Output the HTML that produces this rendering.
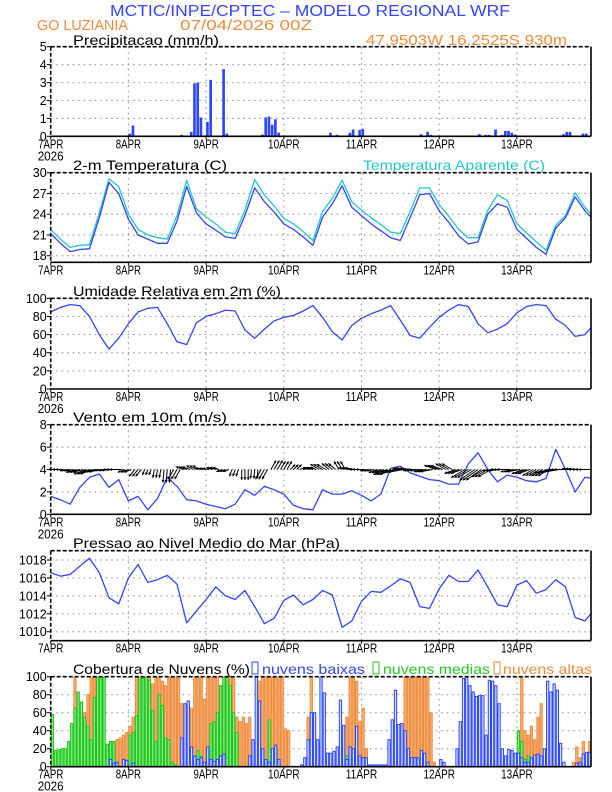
<!DOCTYPE html>
<html><head><meta charset="utf-8"><style>
html,body{margin:0;padding:0;background:#fff}
svg{display:block;font-family:"Liberation Sans",sans-serif}
</style></head><body>
<svg id="chart" width="612" height="792" viewBox="0 0 612 792" xmlns="http://www.w3.org/2000/svg">
<text x="110" y="16" font-size="16" fill="#3344ff" textLength="400" lengthAdjust="spacingAndGlyphs">MCTIC/INPE/CPTEC – MODELO REGIONAL WRF</text>
<text x="37" y="30" font-size="15" fill="#f08a3c" textLength="91" lengthAdjust="spacingAndGlyphs">GO LUZIANIA</text>
<text x="180" y="30" font-size="15" fill="#f08a3c" textLength="132" lengthAdjust="spacingAndGlyphs">07/04/2026 00Z</text>
<text x="366" y="45" font-size="15" fill="#f08a3c" textLength="201" lengthAdjust="spacingAndGlyphs">47.9503W 16.2525S 930m</text>
<text x="73" y="45" font-size="14" fill="#000" textLength="146" lengthAdjust="spacingAndGlyphs">Precipitacao (mm/h)</text>
<text x="73" y="170" font-size="14" fill="#000" textLength="154" lengthAdjust="spacingAndGlyphs">2-m Temperatura (C)</text>
<text x="363" y="170" font-size="14" fill="#20c8c8" textLength="182" lengthAdjust="spacingAndGlyphs">Temperatura Aparente (C)</text>
<text x="73" y="296" font-size="14" fill="#000" textLength="208" lengthAdjust="spacingAndGlyphs">Umidade Relativa em 2m (%)</text>
<text x="73" y="422" font-size="14" fill="#000" textLength="154" lengthAdjust="spacingAndGlyphs">Vento em 10m (m/s)</text>
<text x="73" y="548" font-size="14" fill="#000" textLength="267" lengthAdjust="spacingAndGlyphs">Pressao ao Nivel Medio do Mar (hPa)</text>
<text x="73" y="674" font-size="14" fill="#000" textLength="177" lengthAdjust="spacingAndGlyphs">Cobertura de Nuvens (%)</text>
<rect x="252" y="662" width="6" height="12" fill="none" stroke="#3344ff" stroke-width="1"/>
<text x="262" y="674" font-size="14" fill="#3344ff" textLength="103" lengthAdjust="spacingAndGlyphs">nuvens baixas</text>
<rect x="373" y="662" width="6" height="12" fill="none" stroke="#22cc22" stroke-width="1"/>
<text x="383" y="674" font-size="14" fill="#22cc22" textLength="107" lengthAdjust="spacingAndGlyphs">nuvens medias</text>
<rect x="494" y="662" width="6" height="12" fill="none" stroke="#f08a3c" stroke-width="1"/>
<text x="503" y="674" font-size="14" fill="#f08a3c" textLength="89" lengthAdjust="spacingAndGlyphs">nuvens altas</text>
</svg>
<script>
// ---- data ----
const dayLabels = ["7APR","8APR","9APR","10APR","11APR","12APR","13APR"];
const hours3 = [0,3,6,9,12,15,18,21,24,27,30,33,36,39,42,45,48,51,54,57,60,63,66,69,72,75,78,81,84,87,90,93,96,99,102,105,108,111,114,117,120,123,126,129,132,135,138,141,144,147,150,153,156,159,162,165,168];
const precipHours = [24,25,40,43,44,45,46,48,49,53,54,65,66,67,68,69,70,86,88,92,93,95,96,114,116,117,132,134,135,137,139,140,141,142,143,157,158,159,160,164,165];
const precipVals  = [0.15,0.6,0.08,0.25,2.95,3.0,1.05,0.8,3.15,3.75,0.15,0.1,1.05,1.1,0.65,0.95,0.2,0.2,0.08,0.2,0.38,0.35,0.42,0.12,0.25,0.08,0.12,0.08,0.08,0.38,0.08,0.3,0.3,0.2,0.1,0.05,0.12,0.25,0.25,0.15,0.15];
const tempVals = [21.2,19.8,18.6,18.9,19.0,23.5,28.6,27.0,23.3,21.0,20.4,19.8,19.8,23.0,28.0,24.2,22.6,21.7,20.7,20.5,23.8,27.8,25.8,24.3,22.6,21.8,20.7,19.5,23.6,25.5,28.1,25.0,23.8,22.6,21.6,20.6,20.2,23.5,26.8,27.0,24.5,22.8,20.9,19.7,20.0,24.0,25.5,25.0,21.8,20.5,19.2,18.2,22.0,23.5,26.5,24.5,23.0];
const appTempVals = [21.8,20.4,19.2,19.5,19.6,24.2,29.1,28.0,24.0,21.8,21.0,20.6,20.4,23.8,28.9,24.8,23.6,22.6,21.4,21.2,24.6,29.0,26.8,25.2,23.4,22.6,21.5,20.2,24.4,26.3,28.9,25.8,24.6,23.5,22.5,21.4,21.2,24.4,27.8,27.8,25.4,23.7,21.8,20.6,20.6,24.6,26.8,26.0,22.6,21.3,20.0,18.8,22.4,23.8,27.1,25.0,23.4];
const rhVals = [85,90,93,92,80,60,44,56,72,85,89,90,72,52,49,73,80,83,87,86,65,56,66,75,79,81,86,92,79,63,54,70,78,83,87,92,76,59,56,68,79,87,93,91,72,62,66,72,84,91,93,92,77,70,58,60,72];
const windVals = [1.6,1.3,0.9,2.4,3.3,3.6,2.4,3.1,1.2,1.6,0.4,1.4,3.3,2.5,1.3,1.2,0.9,0.7,0.5,0.9,2.2,1.7,2.5,2.2,1.8,0.8,0.5,0.4,2.2,1.8,1.8,2.1,1.7,1.2,1.8,4.1,4.3,3.7,3.4,3.1,3.0,2.7,2.7,4.5,5.5,4.0,2.9,3.5,3.3,3.0,2.9,3.2,5.8,4.0,2.0,3.3,3.2];
const windDirVals = [185,180,190,195,200,190,185,180,200,230,250,260,265,240,160,150,170,160,200,250,270,265,240,60,60,45,20,160,150,140,120,170,180,190,200,200,190,175,185,190,160,150,200,210,215,210,185,180,190,200,210,210,190,180,175,180,180];
const pressVals = [1016.6,1016.2,1016.4,1017.3,1018.2,1016.6,1013.8,1013.1,1016.0,1017.5,1015.5,1015.8,1016.3,1015.3,1011.0,1012.3,1013.6,1015.0,1014.0,1013.6,1014.6,1012.8,1010.9,1011.5,1013.5,1014.1,1013.0,1013.6,1014.6,1014.1,1010.5,1011.2,1013.4,1014.5,1014.4,1015.1,1015.9,1015.5,1012.8,1012.6,1014.8,1016.3,1015.6,1015.6,1016.9,1015.0,1013.0,1012.8,1015.2,1015.7,1014.3,1014.7,1015.8,1015.0,1011.6,1011.2,1012.5];
const cloudHigh = [0,0,0,0,0,0,0,100,55,40,60,80, 100,100,100,40,20,0,0,20,30,32,35,38, 45,55,100,100,100,100,100,92,100,100,95,90, 100,100,100,98,70,58,72,65,100,100,100,75, 100,100,100,100,90,100,100,100,100,55,50,55, 48,55,0,0,95,100,100,100,100,100,100,100, 42,40,0,0,0,0,0,55,100,55,20,20, 0,0,0,0,0,0,0,55,100,100,95,50, 65,20,0,0,0,0,0,0,0,0,0,0, 0,100,100,100,100,100,100,100,100,60,5,0, 0,0,0,0,0,0,0,0,0,0,0,0, 0,0,0,0,0,0,0,0,0,0,0,0, 30,100,40,35,45,30,55,70,0,0,0,0, 0,0,0,0,0,5,22,10,28,15,28,72];
const cloudMid = [58,18,19,20,20,28,48,65,83,72,55,45, 30,77,100,100,100,25,28,28,0,0,0,0, 35,38,57,100,98,100,96,62,28,80,68,32, 30,5,2,0,0,0,5,2,0,18,12,5, 20,48,50,60,90,100,100,90,60,38,0,0, 0,0,0,0,0,0,0,52,5,22,8,0, 0,0,0,0,0,0,0,0,0,0,0,0, 0,0,0,0,0,0,10,12,8,0,0,0, 0,0,0,0,0,0,0,0,0,0,0,0, 0,0,0,0,0,0,0,0,3,0,0,0, 0,0,0,0,0,0,0,0,0,0,0,0, 0,0,5,10,8,0,0,0,0,0,0,0, 40,28,8,12,5,0,0,0,0,0,0,0, 0,0,0,0,0,0,0,0,0,0,0,0];
const cloudLow = [0,0,0,0,0,0,0,0,0,0,0,0, 0,0,0,0,0,0,8,4,5,0,8,7, 0,4,0,0,0,0,0,0,0,0,0,0, 0,0,0,0,32,70,73,22,12,8,10,5, 22,8,6,8,12,14,0,0,0,0,0,0, 0,12,30,100,73,20,8,5,20,24,8,0, 0,0,0,0,0,2,10,30,60,60,30,100, 82,15,15,17,22,74,46,8,22,20,45,12, 10,10,2,2,2,2,2,2,30,52,85,47, 48,40,20,10,10,10,18,15,5,0,0,0, 8,5,0,0,0,20,50,98,100,90,83,78, 79,79,35,96,95,90,70,20,12,19,18,15, 15,10,5,5,10,13,14,12,20,95,83,92, 85,26,5,0,0,0,4,5,14,16,16,4];
const precipTicks = [0,1,2,3,4,5];
const tempTicks = [18,21,24,27,30];
const pctTicks = [0,20,40,60,80,100];
const windTicks = [0,2,4,6,8];
const pressTicks = [1010,1012,1014,1016,1018];

// ---- drawing ----
const NS = "http://www.w3.org/2000/svg";
const svg = document.getElementById("chart");
const X0 = 50.7, X1 = 591, PXH = 3.2375;
function xs(t){ return X0 + t*PXH; }
function mk(tag, attrs, parent){
  const e = document.createElementNS(NS, tag);
  for (const k in attrs) e.setAttribute(k, attrs[k]);
  (parent||svg).appendChild(e); return e;
}
function panel(name, top, bot, ymin, ymax, ticks, withYear){
  const g = mk("g", {});
  
  
  const ys = v => bot - (v - ymin) / (ymax - ymin) * (bot - top);
  ticks.forEach(v => {
    const y = ys(v);
    if (y > top + 1 && y < bot - 1) {
      const l = mk("line", {x1:X0, x2:X1, y1:y, y2:y, stroke:"#9a9a9a", "stroke-width":1.2, "stroke-dasharray":"1.5,4"}, g);
      
      
    }
    mk("line", {x1:X0-4, x2:X0, y1:y, y2:y, stroke:"#000", "stroke-width":1}, g);
    const t = mk("text", {x:X0-4, y:y+4.5, "font-size":12.5, "text-anchor":"end", fill:"#000"}, g);
    
    
    t.textContent = v;
  });
  dayLabels.forEach((d, i) => {
    const x = xs(i*24);
    if (i > 0) {
      const l = mk("line", {x1:x, x2:x, y1:top, y2:bot, stroke:"#9a9a9a", "stroke-width":1.2, "stroke-dasharray":"1.5,4"}, g);
      
      
    }
    mk("line", {x1:x, x2:x, y1:bot, y2:bot+3, stroke:"#000", "stroke-width":1}, g);
    const t = mk("text", {x:x, y:bot+12, "font-size":12.5, "text-anchor":"middle", fill:"#000", textLength:d.length*6.3, lengthAdjust:"spacingAndGlyphs"}, g);
    
    
    t.textContent = d;
  });
  if (withYear) {
    const t = mk("text", {x:X0, y:bot+24, "font-size":12.5, "text-anchor":"middle", fill:"#000", textLength:26, lengthAdjust:"spacingAndGlyphs"}, g);
    
    
    t.textContent = "2026";
  }
  const clipId = name + "-clip";
  const cp = mk("clipPath", {id:clipId}, g);
  mk("rect", {x:X0, y:top, width:X1-X0, height:bot-top}, cp);
  const plot = mk("g", {"clip-path":"url(#"+clipId+")"}, g);
  return {g, plot, ys, top, bot};
}
function frame(p){
  mk("line", {x1:X0, x2:X1, y1:p.top, y2:p.top, stroke:"#000", "stroke-width":1.6, "stroke-dasharray":"4,2"}, p.g);
  mk("line", {x1:X0, x2:X0, y1:p.top, y2:p.bot, stroke:"#000", "stroke-width":1.6, "stroke-dasharray":"4,2"}, p.g);
  mk("line", {x1:X1, x2:X1, y1:p.top, y2:p.bot, stroke:"#000", "stroke-width":1.6}, p.g);
  mk("line", {x1:X0, x2:X1, y1:p.bot, y2:p.bot, stroke:"#000", "stroke-width":1.6}, p.g);
}
function line(p, xsArr, vals, color, name){
  const pts = vals.map((v, i) => xs(xsArr[i]).toFixed(1) + "," + p.ys(v).toFixed(1)).join(" ");
  const pl = mk("polyline", {points:pts, fill:"none", stroke:color, "stroke-width":1.3, "stroke-linejoin":"round"}, p.plot);
  
  
}

// Precip
const p1 = panel("precip", 46.7, 136.3, 0, 5, precipTicks, true);
precipVals.forEach((v, i) => {
  const x = xs(precipHours[i]);
  const r = mk("rect", {x:x, y:p1.ys(v), width:PXH-0.6, height:p1.bot - p1.ys(v), fill:"#2a44ff"}, p1.plot);
  
  
});
frame(p1);

// Temperature
const p2 = panel("temp", 172.7, 262.3, 17.05, 30, tempTicks, false);
line(p2, hours3, appTempVals, "#20c8c8", "apparent-temp-line");
line(p2, hours3, tempVals, "#3344ff", "temp-line");
frame(p2);

// RH
const p3 = panel("rh", 298.3, 389, 0, 100, pctTicks, true);
line(p3, hours3, rhVals, "#3344ff", "rh-line");
frame(p3);

// Wind
const p4 = panel("wind", 424.7, 514.3, 0, 8, windTicks, true);
line(p4, hours3, windVals, "#3344ff", "wind-speed-line");
for (let h = 0; h <= 167; h++) {
  const i = Math.min(hours3.length - 1, Math.round(h / 3));
  const d = windDirVals[i];
  const x = xs(h), y = p4.ys(4);
  const L = 5 + windVals[i]*2.5;
  const a = d*Math.PI/180;
  const ex = x + L*Math.cos(a), ey = y - L*Math.sin(a);
  const ag = mk("g", {}, p4.plot);
  
  
  mk("line", {x1:x, y1:y, x2:ex, y2:ey, stroke:"#000", "stroke-width":1}, ag);
  const hd = 3;
  const a1 = a + Math.PI - 0.5, a2 = a + Math.PI + 0.5;
  mk("polygon", {points:[ex+","+ey, (ex+hd*Math.cos(a1))+","+(ey-hd*Math.sin(a1)), (ex+hd*Math.cos(a2))+","+(ey-hd*Math.sin(a2))].join(" "), fill:"#000"}, ag);
}
frame(p4);

// Pressure
const p5 = panel("pressure", 550.7, 640.7, 1009, 1019.04, pressTicks, false);
line(p5, hours3, pressVals, "#3344ff", "pressure-line");
frame(p5);

// Clouds
const p6 = panel("cloud", 676.7, 766.7, 0, 100, pctTicks, true);
function cloudBars(vals, fill, stroke, name){
  vals.forEach((v, h) => {
    if (v <= 0) return;
    const r = mk("rect", {x:xs(h)+0.5, y:p6.ys(v), width:PXH-1, height:p6.bot - p6.ys(v), fill:fill, stroke:stroke, "stroke-width":1}, p6.plot);
    
    
  });
}
cloudBars(cloudHigh, "#f6b27a", "#f08a3c", "cloud-high-bar");
cloudBars(cloudMid, "#8ee88e", "#18c818", "cloud-mid-bar");
cloudBars(cloudLow, "#dde4ff", "#2a44ff", "cloud-low-bar");
frame(p6);
</script>
</body></html>
